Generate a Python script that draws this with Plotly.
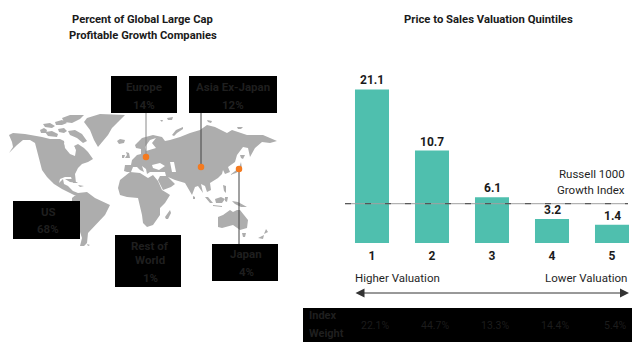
import plotly.graph_objects as go

W, H = 640, 354
FONT = "Roboto"

# ---- bar chart data
quintiles = [1, 2, 3, 4, 5]
drawn_bar_heights = [21.1, 12.7, 6.3, 3.3, 2.5]   # as drawn in the picture
value_labels = ["21.1", "10.7", "6.1", "3.2", "1.4"]
index_weights = ["22.1%", "44.7%", "13.3%", "14.4%", "5.4%"]
russell_level = [5.4]

# ---- land outlines in the map's own grid
land = [
 # North America
 [(9,135),(13,133),(25,134),(37,136),(42,137),(50,139),(60,139),(64,141),(65,148),(70,154),(75,156),(76,150),(74,146),(78,144),(84,148),(88,152),(93,159),(88,162),(82,164),(78,168),(75,174),(76,183),(73,183),(71,177),(65,177),(60,179),(59,183),(63,179),(64,184),(68,186),(73,191),(78,193),(76,196),(70,193),(62,189),(54,184),(47,177),(42,170),(40,162),(37,150),(35,143),(30,140),(23,140),(17,145),(9,153),(13,147),(12,142)],
 # Greenland, Iceland
 [(87,118),(100,114),(125,115),(120,120),(112,128),(108,135),(103,141),(98,147),(94,140),(90,130),(84,122)],
 [(117,141),(120,139),(125,140),(124,143),(119,144)],
 # Arctic islands
 [(40,130),(44,128),(47,130),(46,133),(41,133)],
 [(43,124),(50,123),(55,126),(52,128),(45,127)],
 [(45,132),(52,131),(58,134),(57,137),(48,136)],
 [(55,122),(62,120),(67,123),(62,125),(56,125)],
 [(62,118),(70,115),(84,115),(80,119),(72,123),(64,122)],
 [(58,129),(64,128),(67,131),(64,133),(59,132)],
 [(68,131),(75,130),(82,134),(87,141),(83,143),(77,138),(70,135)],
 # Eurasia
 [(124,171),(125,165),(131,165),(132,160),(137,155),(141,154),(141,149),(136,148),(135,145),(142,138),(153,135),(162,137),(165,141),(170,140),(180,137),(190,133),(200,130),(207,125),(215,127),(227,133),(232,130),(247,135),(263,135),(277,141),(270,143),(262,142),(255,148),(250,157),(248,148),(243,147),(237,155),(235,162),(228,167),(230,172),(225,174),(223,170),(222,174),(220,176),(218,178),(210,183),(211,190),(207,192),(205,186),(201,184),(203,193),(198,186),(195,187),(192,195),(188,188),(185,183),(175,180),(168,177),(175,184),(171,187),(163,190),(158,180),(160,176),(166,176),(165,172),(150,172),(147,174),(146,169),(142,166),(144,172),(140,170),(137,167),(133,167),(131,172),(127,172)],
 # Britain, Ireland, Svalbard, Novaya Zemlya, others
 [(126,152),(129,153),(130,158),(125,158),(127,155)],
 [(122,155),(125,155),(124,158),(122,158)],
 [(167,118),(173,117),(172,120),(168,120)],
 [(172,135),(176,130),(183,127),(183,129),(177,133),(174,136)],
 [(207,120),(212,121),(211,123),(208,122)],
 [(237,127),(243,127),(241,129),(238,129)],
 # Africa, Madagascar
 [(118,188),(120,180),(130,172),(140,173),(148,178),(153,175),(158,181),(162,190),(167,193),(170,195),(165,203),(160,208),(160,215),(153,225),(147,227),(143,223),(142,215),(140,205),(138,198),(127,197),(120,195)],
 [(165,217),(170,210),(171,213),(168,219),(166,219)],
 # South America and Caribbean
 [(78,193),(87,192),(95,198),(110,205),(105,215),(95,225),(88,233),(87,243),(84,246),(80,246),(82,238),(80,232),(80,217),(72,205),(72,198)],
 [(65,179),(72,179),(78,183),(70,182)],
 [(78,185),(84,186),(80,187)],
 [(87,244),(90,245),(88,246)],
 # South-East Asia and Oceania
 [(205,197),(208,197),(213,203),(210,203)],
 [(213,205),(222,206),(222,207),(213,206)],
 [(215,199),(221,197),(225,199),(222,203),(216,203)],
 [(225,197),(228,197),(227,202),(225,201)],
 [(223,185),(226,186),(226,193),(224,191)],
 [(232,201),(238,202),(247,207),(241,207),(235,204)],
 [(218,217),(223,215),(230,210),(233,212),(237,210),(240,210),(244,215),(248,220),(247,228),(240,230),(233,225),(222,228),(218,227)],
 [(242,233),(246,233),(245,237),(243,237)],
 [(266,229),(268,232),(264,234)],
 [(258,238),(264,235),(263,239)],
 [(230,175),(235,171),(239,168),(241,162),(242,169),(236,173)],
 [(240,155),(245,155),(243,159),(241,158)],
 [(193,196),(195,197),(195,199),(193,199)],
 [(160,120),(163,120),(162,122)],
]
water = [
 [(64,143),(72,143),(75,148),(75,155),(70,153),(66,148)],      # Hudson Bay
 [(145,147),(150,140),(156,138),(152,143),(156,148),(150,150),(146,151)],  # Baltic
 [(152,165),(160,163),(165,166),(159,170),(153,168)],          # Black Sea
 [(170,162),(174,162),(176,172),(172,172)],                    # Caspian
]
europe_dot, asia_dot, japan_dot = (146, 157), (201, 167), (239, 169)


def poly_xy(polys):
    xs, ys = [], []
    for p in polys:
        xs += [q[0] for q in p] + [p[0][0], None]
        ys += [q[1] for q in p] + [p[0][1], None]
    return xs, ys


def px(x):
    return x / W


def py(y):
    return 1 - y / H


fig = go.Figure()
lx, ly = poly_xy(land)
fig.add_trace(go.Scatter(x=lx, y=ly, mode="lines", fill="toself", fillcolor="#adadad",
                         line=dict(width=0, color="#adadad"), hoverinfo="skip", xaxis="x", yaxis="y"))
wx, wy = poly_xy(water)
fig.add_trace(go.Scatter(x=wx, y=wy, mode="lines", fill="toself", fillcolor="#ffffff",
                         line=dict(width=0, color="#ffffff"), hoverinfo="skip", xaxis="x", yaxis="y"))
# leaders
fig.add_trace(go.Scatter(x=[europe_dot[0], europe_dot[0]], y=[113, europe_dot[1]], mode="lines",
                         line=dict(color="#8a8a8a", width=1), hoverinfo="skip", xaxis="x", yaxis="y"))
fig.add_trace(go.Scatter(x=[asia_dot[0], asia_dot[0], None, japan_dot[0], japan_dot[0]],
                         y=[113, asia_dot[1], None, japan_dot[1], 244], mode="lines",
                         line=dict(color="#444444", width=1), hoverinfo="skip", xaxis="x", yaxis="y"))
fig.add_trace(go.Scatter(x=[europe_dot[0], asia_dot[0], japan_dot[0]], y=[europe_dot[1], asia_dot[1], japan_dot[1]],
                         mode="markers", marker=dict(color="#f47a1f", size=6.5), hoverinfo="skip", xaxis="x", yaxis="y"))

# bars
fig.add_trace(go.Bar(x=quintiles, y=drawn_bar_heights, width=0.567, marker=dict(color="#4fbfae", line=dict(width=0)),
                     hoverinfo="skip", xaxis="x2", yaxis="y2"))

shapes = []
# callout boxes
boxes = [(111, 76, 177, 113), (189, 76, 277, 113), (13, 201, 80, 239), (115, 235, 181, 287), (212, 244, 278, 281)]
for x0, y0, x1, y1 in boxes:
    shapes.append(dict(type="rect", xref="x", yref="y", x0=x0, x1=x1, y0=y0, y1=y1,
                       fillcolor="#000000", line=dict(width=0), layer="above"))
# index table
shapes.append(dict(type="rect", xref="paper", yref="paper", x0=px(303), x1=px(632), y0=py(342), y1=py(308),
                   fillcolor="#000000", line=dict(width=0), layer="above"))
# benchmark line
shapes.append(dict(type="line", xref="paper", yref="y2", x0=px(345), x1=px(628), y0=russell_level[0], y1=russell_level[0],
                   line=dict(color="#a0a0a0", width=1), layer="above"))
shapes.append(dict(type="line", xref="paper", yref="y2", x0=px(345), x1=px(628), y0=russell_level[0], y1=russell_level[0],
                   line=dict(color="#444444", width=1, dash="6px,14px"), layer="above"))


def label(x, y, text, size=12, color="#1a1a1a", bold=False, anchor="center"):
    return dict(xref="paper", yref="paper", x=px(x), y=py(y), text=text, showarrow=False, xanchor=anchor, yanchor="middle",
                align={"center": "center", "left": "left", "right": "right"}[anchor],
                font=dict(family=FONT, size=size, color=color, weight="bold" if bold else "normal"))


TXT = "#1f1f1f"
anns = [
    label(142.5, 19, "Percent of Global Large Cap", 11.2, bold=True),
    label(142.5, 35, "Profitable Growth Companies", 11.2, bold=True),
    label(488, 19, "Price to Sales Valuation Quintiles", 11.3, bold=True),
    label(144, 87, "Europe", 11.5, TXT, True), label(144, 105, "14%", 11.5, TXT, True),
    label(233, 87, "Asia Ex-Japan", 11.5, TXT, True), label(233, 105, "12%", 11.5, TXT, True),
    label(48, 212, "US", 11.5, TXT, True), label(48, 229, "68%", 11.5, TXT, True),
    label(150, 246, "Rest of", 11.5, TXT, True), label(150, 260, "World", 11.5, TXT, True), label(150, 278, "1%", 11.5, TXT, True),
    label(246, 254, "Japan", 11.5, TXT, True), label(246, 272, "4%", 11.5, TXT, True),
    label(627, 174, "Russell 1000", 11.5, "#1f1f1f", anchor="right"),
    label(627, 190, "Growth Index", 11.5, "#1f1f1f", anchor="right"),
    label(353, 278, "Higher Valuation", 11.5, "#1f1f1f", anchor="left"),
    label(629, 278, "Lower Valuation", 11.5, "#1f1f1f", anchor="right"),
    label(307, 315, "Index", 11, TXT, True, "left"),
    label(307, 333, "Weight", 11, TXT, True, "left"),
    dict(xref="paper", yref="paper", axref="pixel", ayref="pixel", x=px(629), y=py(293), ax=-275, ay=0, text="",
         showarrow=True, arrowside="end+start", arrowhead=2, startarrowhead=2, arrowsize=1.8, startarrowsize=1.8,
         arrowwidth=1, arrowcolor="#333333"),
]
for q, h, t in zip(quintiles, drawn_bar_heights, value_labels):
    anns.append(dict(xref="x2", yref="y2", x=q, y=h, text=t, showarrow=False, yanchor="middle", yshift=9,
                     font=dict(family=FONT, size=12, color="#1a1a1a", weight="bold")))
for q, w in zip(quintiles, index_weights):
    anns.append(dict(xref="x2", yref="paper", x=q, y=py(325), text=w, showarrow=False, xshift=3, yanchor="middle",
                     font=dict(family=FONT, size=10.5, color="#1c1c1c")))

fig.update_layout(
    width=W, height=H, margin=dict(l=0, r=0, t=0, b=0), paper_bgcolor="white", plot_bgcolor="white",
    showlegend=False, shapes=shapes, annotations=anns, font=dict(family=FONT),
    xaxis=dict(domain=[0, 0.5], range=[0, 320], visible=False, fixedrange=True),
    yaxis=dict(domain=[0, 1], range=[354, 0], visible=False, fixedrange=True),
    xaxis2=dict(domain=[342 / W, 1], range=[0.5, 5.4667], tickmode="array", tickvals=quintiles,
                ticktext=[str(q) for q in quintiles], showgrid=False, zeroline=False, showline=False,
                ticks="outside", ticklen=2, tickcolor="rgba(0,0,0,0)", anchor="y2",
                tickfont=dict(family=FONT, size=12, color="#1a1a1a", weight="bold")),
    yaxis2=dict(domain=[py(243), py(60)], range=[0, 183 / 7.28], visible=False, anchor="x2"),
)
fig.write_html("out.html", config={"displayModeBar": False},
               post_script="document.body.style.margin='0';document.documentElement.style.overflow='hidden';")
